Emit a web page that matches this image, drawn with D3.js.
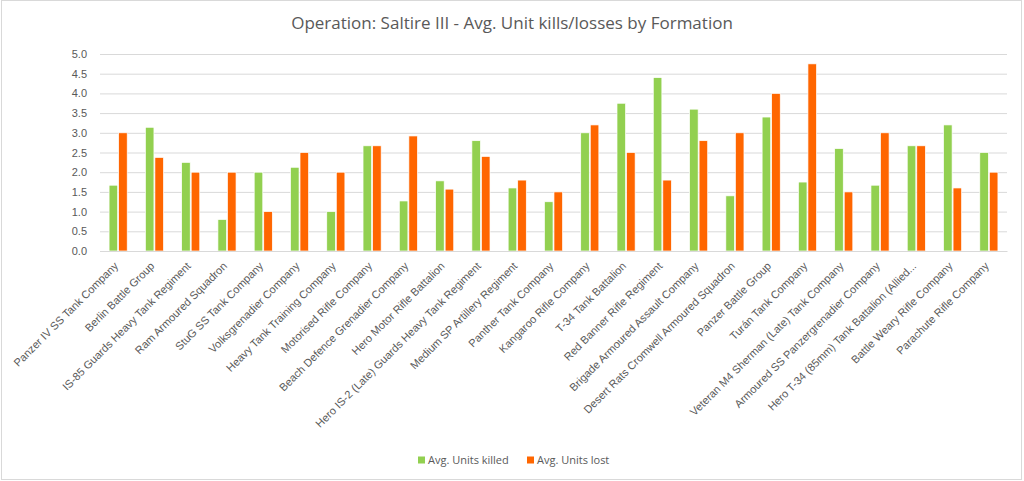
<!DOCTYPE html>
<html>
<head>
<meta charset="utf-8">
<script src="https://cdn.jsdelivr.net/npm/d3@7"></script>
<style>
  body { margin: 0; background: #fff; }
  svg { display: block; font-family: "Open Sans", Lato, sans-serif; }
  .axis text { fill: #595959; font-size: 11px; }
  .grid line { stroke: #d9d9d9; stroke-width: 1; }
</style>
</head>
<body>
<svg width="1024" height="481"></svg>
<script>

var formations = [
  "Panzer IV SS Tank Company",
  "Berlin Battle Group",
  "IS-85 Guards Heavy Tank Regiment",
  "Ram Armoured Squadron",
  "StuG SS Tank Company",
  "Volksgrenadier Company",
  "Heavy Tank Training Company",
  "Motorised Rifle Company",
  "Beach Defence Grenadier Company",
  "Hero Motor Rifle Battalion",
  "Hero IS-2 (Late) Guards Heavy Tank Regiment",
  "Medium SP Artillery Regiment",
  "Panther Tank Company",
  "Kangaroo Rifle Company",
  "T-34 Tank Battalion",
  "Red Banner Rifle Regiment",
  "Brigade Armoured Assault Company",
  "Desert Rats Cromwell Armoured Squadron",
  "Panzer Battle Group",
  "Turán Tank Company",
  "Veteran M4 Sherman (Late) Tank Company",
  "Armoured SS Panzergrenadier Company",
  "Hero T-34 (85mm) Tank Battalion (Allied...",
  "Battle Weary Rifle Company",
  "Parachute Rifle Company"
];

var unitsKilled = [1.67, 3.14, 2.25, 0.8, 2.0, 2.125, 1.0, 2.67, 1.27, 1.78, 2.8, 1.6, 1.25,
                   3.0, 3.75, 4.4, 3.6, 1.4, 3.4, 1.75, 2.6, 1.67, 2.67, 3.2, 2.5];
var unitsLost   = [3.0, 2.375, 2.0, 2.0, 1.0, 2.5, 2.0, 2.67, 2.92, 1.57, 2.4, 1.8, 1.5,
                   3.2, 2.5, 1.8, 2.8, 3.0, 4.0, 4.75, 1.5, 3.0, 2.67, 1.6, 2.0];

var seriesNames = ["Avg. Units killed", "Avg. Units lost"];
var seriesColors = ["#92d050", "#ff6600"];
var yTicks = [0, 0.5, 1, 1.5, 2, 2.5, 3, 3.5, 4, 4.5, 5];
var title = "Operation: Saltire III - Avg. Unit kills/losses by Formation";

var svg = d3.select("svg"),
    margin = {top: 54, right: 17, bottom: 230, left: 100},
    width = +svg.attr("width") - margin.left - margin.right,
    height = +svg.attr("height") - margin.top - margin.bottom;

// chart border
svg.append("rect")
    .attr("x", 1.5).attr("y", 0.5)
    .attr("width", 1020).attr("height", 479)
    .attr("fill", "#fff")
    .attr("stroke", "#d9d9d9");

svg.append("text")
    .attr("x", 512)
    .attr("y", 29)
    .attr("text-anchor", "middle")
    .attr("fill", "#595959")
    .style("font-size", "17px")
    .text(title);

var g = svg.append("g").attr("transform", "translate(" + margin.left + "," + margin.top + ")");

var data = formations.map(function(f, i) {
  return {name: f, values: [unitsKilled[i], unitsLost[i]]};
});

var x0 = d3.scaleBand()
    .domain(formations)
    .range([0, width])
    .paddingInner(0.5)
    .paddingOuter(0.25);

var x1 = d3.scaleBand()
    .domain(d3.range(seriesNames.length))
    .range([0, x0.bandwidth()])
    .paddingInner(0.1);

var y = d3.scaleLinear()
    .domain([0, 5])
    .range([height, 0]);

g.append("g")
    .attr("class", "axis grid")
    .call(d3.axisLeft(y).tickValues(yTicks).tickFormat(d3.format(".1f")).tickSize(-width).tickPadding(13))
    .call(function(a) { a.select(".domain").remove(); });

g.selectAll(".group")
  .data(data)
  .enter().append("g")
    .attr("class", "group")
    .attr("transform", function(d) { return "translate(" + x0(d.name) + ",0)"; })
  .selectAll("rect")
  .data(function(d) { return d.values; })
  .enter().append("rect")
    .attr("x", function(d, i) { return x1(i); })
    .attr("y", function(d) { return y(d); })
    .attr("width", x1.bandwidth())
    .attr("height", function(d) { return height - y(d); })
    .attr("fill", function(d, i) { return seriesColors[i]; })
    .attr("stroke", "#fff")
    .attr("stroke-width", 0.7);

var xAxis = g.append("g")
    .attr("class", "axis")
    .attr("transform", "translate(0," + height + ")")
    .call(d3.axisBottom(x0).tickSize(0).tickSizeOuter(0));

xAxis.select(".domain").attr("stroke", "#d9d9d9");

xAxis.selectAll(".tick text")
    .attr("text-anchor", "end")
    .attr("transform", "translate(-2,13) rotate(-45)")
    .attr("dy", "0.35em")
    .attr("y", 0)
    .attr("x", 0);

// legend
var legend = svg.append("g")
    .attr("transform", "translate(418,460)");

var item = legend.selectAll(".item")
  .data(seriesNames)
  .enter().append("g")
    .attr("class", "item")
    .attr("transform", function(d, i) { return "translate(" + (i * 109) + ",0)"; });

item.append("rect")
    .attr("x", 0).attr("y", -3.5)
    .attr("width", 7).attr("height", 7)
    .attr("fill", function(d, i) { return seriesColors[i]; });

item.append("text")
    .attr("x", 10)
    .attr("dy", "0.35em")
    .attr("fill", "#595959")
    .style("font-size", "11px")
    .text(function(d) { return d; });

</script>
</body>
</html>
